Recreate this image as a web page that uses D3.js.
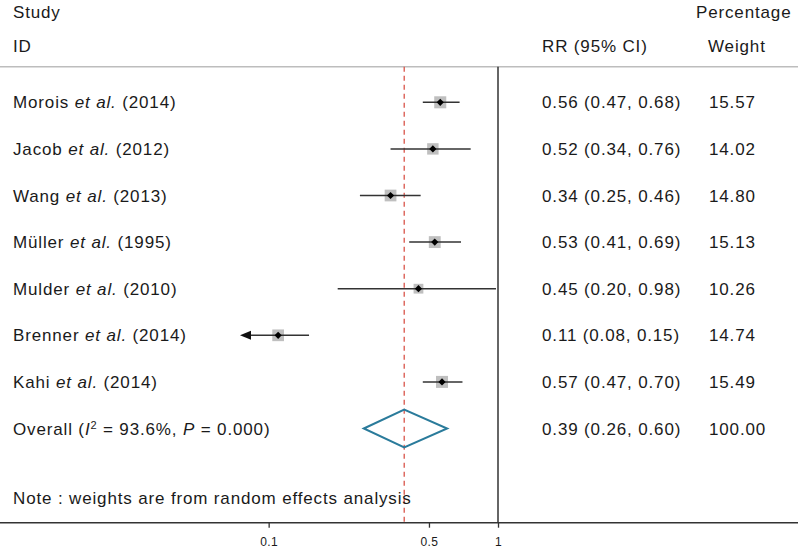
<!DOCTYPE html>
<html>
<head>
<meta charset="utf-8">
<script src="https://cdn.jsdelivr.net/npm/d3@7"></script>
<style>
  html, body { margin: 0; padding: 0; background: #fff; }
  svg { display: block; }
  text { font-family: "Liberation Sans", Arial, Helvetica, sans-serif; fill: #1a1a1a; }
</style>
</head>
<body>
<svg id="chart" width="798" height="548"></svg>
<script>
// ---- data ----
const authors = ["Morois", "Jacob", "Wang", "Müller", "Mulder", "Brenner", "Kahi"];
const years = [2014, 2012, 2013, 1995, 2010, 2014, 2014];
const rr = [0.56, 0.52, 0.34, 0.53, 0.45, 0.11, 0.57];
const ciLow = [0.47, 0.34, 0.25, 0.41, 0.20, 0.08, 0.47];
const ciHigh = [0.68, 0.76, 0.46, 0.69, 0.98, 0.15, 0.70];
const weights = [15.57, 14.02, 14.80, 15.13, 10.26, 14.74, 15.49];
const overallRR = 0.39, overallLow = 0.26, overallHigh = 0.60, overallWeight = 100.00;
const i2 = "93.6%", pValue = "0.000";
const tickValues = [0.1, 0.5, 1];
const tickLabels = ["0.1", "0.5", "1"];
const xDomain = [0.075, 1];
const arrowLimit = 0.08; // CIs reaching this bound are drawn as arrows

// ---- layout ----
const W = 798, H = 548;
const svg = d3.select("#chart");
const fs = 17, ls = 0.85;
const x = d3.scaleLog().domain(xDomain).range([240, 498]);
const rowY = d3.scaleLinear().domain([0, 1]).range([102.3, 148.9]);
const axisY = 522.7, headerLineY = 66.7, topY = 66.7;
const colRR = 542, colW = 709, colLabel = 13;
const fmt = d3.format(".2f");

function addText(sel, xx, yc, parts, opts = {}) {
  const t = sel.append("text")
    .attr("x", xx).attr("y", yc + fs * 0.36)
    .style("font-size", (opts.size || fs) + "px")
    .style("letter-spacing", (opts.ls !== undefined ? opts.ls : ls) + "px")
    .attr("text-anchor", opts.anchor || "start");
  parts.forEach(p => {
    if (typeof p === "string") t.append("tspan").text(p);
    else {
      const ts = t.append("tspan").text(p.t);
      if (p.i) ts.style("font-style", "italic");
      if (p.sup) ts.attr("dy", -6).style("font-size", "11px");
      if (p.down) ts.attr("dy", 6);
    }
  });
  return t;
}

// header
addText(svg, colLabel, 11.5, ["Study"]);
addText(svg, colLabel, 45.5, ["ID"]);
addText(svg, colRR, 45.5, ["RR (95% CI)"]);
addText(svg, 696, 11.5, ["Percentage"]);
addText(svg, 708, 45.5, ["Weight"]);

svg.append("line").attr("x1", 0).attr("x2", W).attr("y1", headerLineY).attr("y2", headerLineY)
  .attr("stroke", "#bdbdbd").attr("stroke-width", 1.5);

// reference lines
svg.append("line").attr("x1", x(1)).attr("x2", x(1)).attr("y1", topY).attr("y2", axisY)
  .attr("stroke", "#333").attr("stroke-width", 1.5);
svg.append("line").attr("x1", x(overallRR)).attr("x2", x(overallRR)).attr("y1", topY).attr("y2", axisY)
  .attr("stroke", "#d9544a").attr("stroke-width", 1.3).attr("stroke-dasharray", "5,4");

// study rows
const rows = authors.map((a, i) => ({a, year: years[i], rr: rr[i], lo: ciLow[i], hi: ciHigh[i], w: weights[i], i}));
const g = svg.append("g");
rows.forEach(d => {
  const y = rowY(d.i);
  addText(g, colLabel, y, [d.a + " ", {t: "et al.", i: true}, " (" + d.year + ")"]);
  addText(g, colRR, y, [`${fmt(d.rr)} (${fmt(d.lo)}, ${fmt(d.hi)})`]);
  addText(g, colW, y, [fmt(d.w)]);

  const side = 3.05 * Math.sqrt(d.w);
  g.append("rect").attr("x", x(d.rr) - side / 2).attr("y", y - side / 2)
    .attr("width", side).attr("height", side).attr("fill", "#bfbfbf");

  const clipped = d.lo <= arrowLimit;
  const left = clipped ? x(xDomain[0]) : x(d.lo);
  g.append("line").attr("x1", clipped ? left + 9 : left).attr("x2", x(d.hi)).attr("y1", y).attr("y2", y)
    .attr("stroke", "#333").attr("stroke-width", 1.5);
  if (clipped) {
    g.append("path")
      .attr("d", `M${left},${y} L${left + 11},${y - 4.5} L${left + 11},${y + 4.5} Z`)
      .attr("fill", "#111");
  }
  const r = 3.6;
  g.append("path")
    .attr("d", `M${x(d.rr) - r},${y} L${x(d.rr)},${y - r} L${x(d.rr) + r},${y} L${x(d.rr)},${y + r} Z`)
    .attr("fill", "#000");
});

// overall
const oy = rowY(7);
addText(svg, colLabel, oy, ["Overall (", {t: "I", i: true}, {t: "2", sup: true}, {t: " = " + i2 + ", ", down: true}, {t: "P", i: true}, " = " + pValue + ")"]);
addText(svg, colRR, oy, [`${fmt(overallRR)} (${fmt(overallLow)}, ${fmt(overallHigh)})`]);
addText(svg, colW, oy, [fmt(overallWeight)]);
const dh = 18.8;
svg.append("path")
  .attr("d", `M${x(overallLow)},${oy} L${x(overallRR)},${oy - dh} L${x(overallHigh)},${oy} L${x(overallRR)},${oy + dh} Z`)
  .attr("fill", "none").attr("stroke", "#2a7b9b").attr("stroke-width", 2);

// note
addText(svg, colLabel, 498, ["Note : weights are from random effects analysis"]);

// axis
svg.append("line").attr("x1", 0).attr("x2", W).attr("y1", axisY).attr("y2", axisY)
  .attr("stroke", "#333").attr("stroke-width", 1.5);
const axis = d3.axisBottom(x).tickValues(tickValues)
  .tickFormat((v, i) => tickLabels[i]).tickSize(5).tickPadding(10);
const ag = svg.append("g").attr("transform", `translate(0,${axisY})`).call(axis);
ag.select(".domain").remove();
ag.selectAll(".tick line").attr("stroke", "#333").attr("stroke-width", 1.3);
ag.selectAll(".tick text").style("font-family", "'Liberation Sans', Arial, sans-serif")
  .style("font-size", "12px").style("letter-spacing", "0.4px").attr("fill", "#1a1a1a");
</script>
</body>
</html>
